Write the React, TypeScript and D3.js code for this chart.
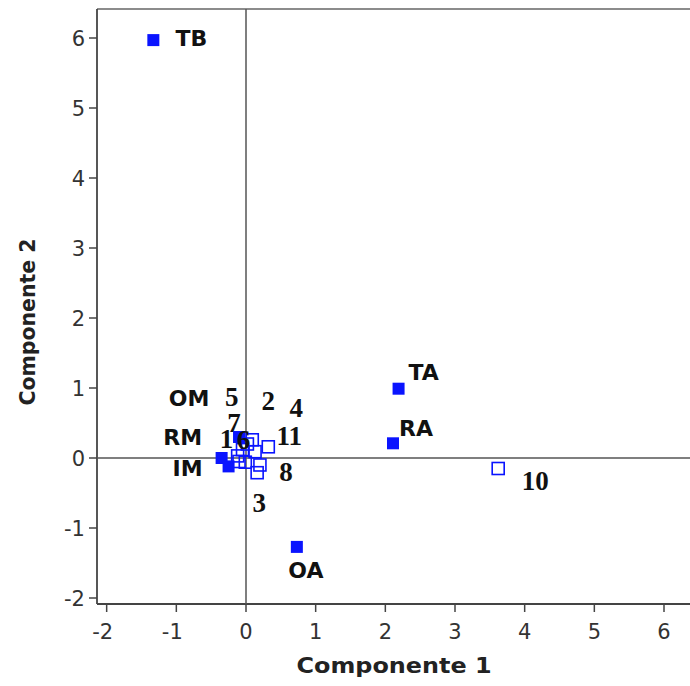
import React from "react";
import * as d3 from "d3";

const variableNames = ["TB", "TA", "RA", "OA", "OM", "RM", "IM"];
const variableX = [-1.33, 2.19, 2.11, 0.73, -0.1, -0.35, -0.25];
const variableY = [5.97, 0.99, 0.21, -1.27, 0.3, 0.0, -0.12];

const sampleNames = ["1", "2", "3", "4", "5", "6", "7", "8", "9", "10", "11"];
const sampleX = [-0.05, 0.09, 0.16, 0.32, -0.12, 0.02, -0.1, 0.2, 0.13, 3.62, -0.01];
const sampleY = [0.12, 0.26, -0.21, 0.16, 0.03, 0.2, -0.05, -0.1, 0.09, -0.15, -0.06];

const xTicks = [-2, -1, 0, 1, 2, 3, 4, 5, 6];
const yTicks = [-2, -1, 0, 1, 2, 3, 4, 5, 6];

// label offsets in pixels (style only)
const variableLabelOffsets: [number, number][] = [
  [38, -2], [25, -17], [23, -15], [9, 23], [-50, -39], [-39, -21], [-41, 2],
];
const sampleLabelOffsets: ([number, number] | null)[] = [
  [-16, -11], [16, -40], [2, 30], [28, -40], [-6, -60], [-4, -5], [-5, -39], [26, 6], null, [37, 12], [44, -27],
];

const W = 690;
const H = 686;
const L = 97, T = 9, R = 700, B = 604;

export default function App() {
  const x = d3.scaleLinear().domain([0, 6]).range([246, 664]);
  const y = d3.scaleLinear().domain([0, 6]).range([458, 38]);
  const blue = "#0a14ff";
  const sq = 12;
  const sansFont = "'DejaVu Sans', Verdana, sans-serif";
  const serifFont = "'Liberation Serif', 'DejaVu Serif', serif";

  return (
    <svg width={W} height={H} style={{ position: "absolute", left: 0, top: 0, background: "#fff" }}>
      <rect x={0} y={0} width={W} height={H} fill="#fff" />
      {/* frame */}
      <line x1={L} x2={R} y1={T} y2={T} stroke="#666" strokeWidth={1.5} />
      <line x1={L} x2={L} y1={T} y2={B} stroke="#444" strokeWidth={1.8} />
      <line x1={L} x2={R} y1={B} y2={B} stroke="#444" strokeWidth={1.8} />
      {/* zero lines */}
      <line x1={x(0)} x2={x(0)} y1={T} y2={B} stroke="#555" strokeWidth={1.5} />
      <line x1={L} x2={R} y1={y(0)} y2={y(0)} stroke="#555" strokeWidth={1.5} />
      {/* x ticks */}
      {xTicks.map((t) => (
        <g key={"xt" + t}>
          <line x1={x(t)} x2={x(t)} y1={B} y2={B + 8} stroke="#444" strokeWidth={1.5} />
          <text x={x(t) - (t < 0 ? 4 : 0)} y={B + 35} textAnchor="middle" fontFamily={sansFont} fontSize={21} fill="#333">
            {t}
          </text>
        </g>
      ))}
      {/* y ticks */}
      {yTicks.map((t) => (
        <g key={"yt" + t}>
          <line x1={L - 8} x2={L} y1={y(t)} y2={y(t)} stroke="#444" strokeWidth={1.5} />
          <text x={L - 12} y={y(t)} dy="0.36em" textAnchor="end" fontFamily={sansFont} fontSize={21} fill="#333">
            {t}
          </text>
        </g>
      ))}
      {/* axis titles */}
      <text x={394} y={673} textAnchor="middle" fontFamily={sansFont} fontWeight="bold" fontSize={22} fill="#222" textLength={195} lengthAdjust="spacingAndGlyphs">
        Componente 1
      </text>
      <text transform="translate(35,322) rotate(-90)" textAnchor="middle" fontFamily={sansFont} fontWeight="bold" fontSize={22} fill="#222" textLength={167} lengthAdjust="spacingAndGlyphs">
        Componente 2
      </text>
      {/* sample points (open) */}
      {sampleNames.map((n, i) => (
        <rect key={"s" + n} x={x(sampleX[i]) - sq / 2} y={y(sampleY[i]) - sq / 2} width={sq} height={sq} fill="none" stroke={blue} strokeWidth={1.6} />
      ))}
      {/* variable points (filled) */}
      {variableNames.map((n, i) => (
        <rect key={"v" + n} x={x(variableX[i]) - sq / 2} y={y(variableY[i]) - sq / 2} width={sq} height={sq} fill={blue} />
      ))}
      {/* labels */}
      {variableNames.map((n, i) => (
        <text key={"vl" + n} x={x(variableX[i]) + variableLabelOffsets[i][0]} y={y(variableY[i]) + variableLabelOffsets[i][1]} dy="0.36em" textAnchor="middle" fontFamily={sansFont} fontWeight="bold" fontSize={22} fill="#111">
          {n}
        </text>
      ))}
      {sampleNames.map((n, i) => {
        const o = sampleLabelOffsets[i];
        if (!o) return null;
        return (
          <text key={"sl" + n} x={x(sampleX[i]) + o[0]} y={y(sampleY[i]) + o[1]} dy="0.36em" textAnchor="middle" fontFamily={serifFont} fontWeight="bold" fontSize={27} fill="#111">
            {n}
          </text>
        );
      })}
    </svg>
  );
}
